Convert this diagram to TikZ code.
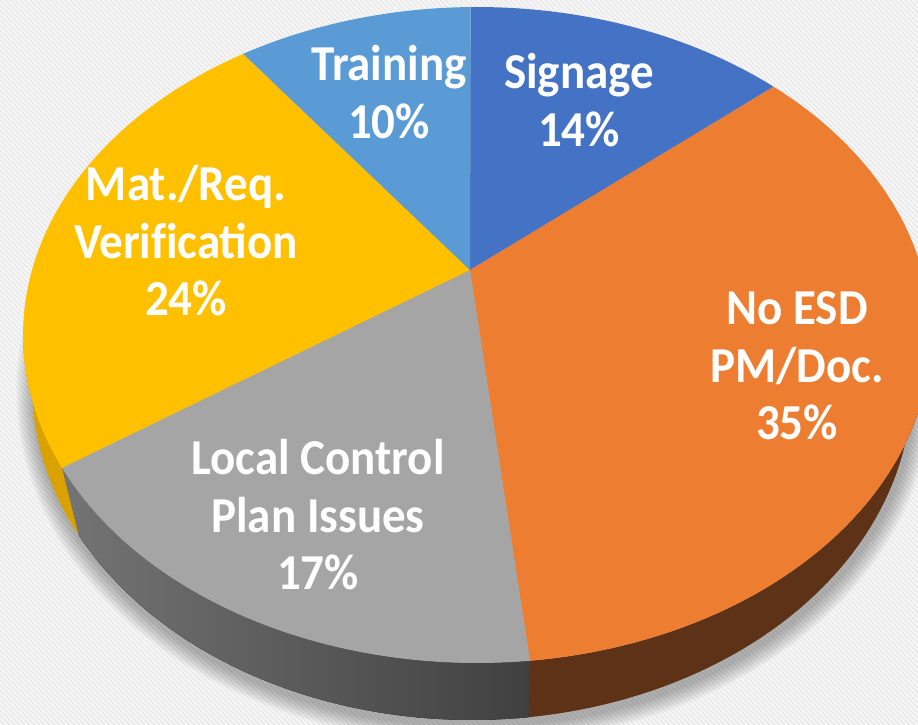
\documentclass[tikz,border=0pt]{standalone}
\usepackage{fontspec}
\usepackage{graphicx}
\setmainfont{Carlito}
\definecolor{bgc}{HTML}{F8F8F8}
\definecolor{stripec}{HTML}{E9E9E9}
\definecolor{csign}{HTML}{4472C4}
\definecolor{corange}{HTML}{ED7D31}
\definecolor{cgray}{HTML}{A5A5A5}
\definecolor{cyellow}{HTML}{FFC000}
\definecolor{ctrain}{HTML}{5B9BD5}
\definecolor{rimorange}{HTML}{5E3216}
\definecolor{rimgrayL}{HTML}{747474}
\definecolor{rimgrayR}{HTML}{404040}
\definecolor{rimyellow}{HTML}{D9A200}
\newcommand\sy[1]{\scalebox{1}[1.07]{#1}}
\begin{document}
\begin{tikzpicture}[x=1pt,y=-1pt,
  lbl/.style={text=white,font=\fontsize{47}{57.5}\selectfont\bfseries,align=center,inner sep=0pt},
  stripe/.style={draw=stripec,line width=1.7pt}]
\useasboundingbox (0,0) rectangle (918,725);
% background
\fill[bgc] (0,0) rectangle (918,725);
\begin{scope}
\clip (0,0) rectangle (918,725);
\foreach \i in {-730,-725,...,920} \draw[stripe] (\i,0) -- ++(725,725);
% soft shadow
\foreach \i in {1,...,10}
  \fill[black,opacity=0.03] plot[domain=0:360,samples=90,variable=\t]
    ({474+(440+1.8*\i)*cos(\t)},{391+(335+1.8*\i)*sin(\t)}) -- cycle;
\end{scope}
% rim (side walls)
\fill[rimorange]
  plot[domain=0:83.3,samples=50,variable=\t]({477+454*cos(\t)},{335+328*sin(\t)})
  -- plot[domain=82.6:0,samples=50,variable=\t]({472+440*cos(\t)},{385+335*sin(\t)}) -- cycle;
\fill[left color=rimgrayL,right color=rimgrayR]
  plot[domain=83.3:156.1,samples=50,variable=\t]({477+454*cos(\t)},{335+328*sin(\t)})
  -- plot[domain=153.4:82.6,samples=50,variable=\t]({472+440*cos(\t)},{385+335*sin(\t)}) -- cycle;
\fill[rimyellow]
  plot[domain=156.1:180,samples=30,variable=\t]({477+454*cos(\t)},{335+328*sin(\t)})
  -- plot[domain=180:153.4,samples=30,variable=\t]({472+440*cos(\t)},{385+335*sin(\t)}) -- cycle;
% top slices
\coordinate (O) at (470,270);
\fill[csign] (O) -- plot[domain=269.2:310.8,samples=40,variable=\t]({477+454*cos(\t)},{335+328*sin(\t)}) -- cycle;
\fill[corange] (O) -- plot[domain=310.8:443.3,samples=90,variable=\t]({477+454*cos(\t)},{335+328*sin(\t)}) -- cycle;
\fill[cgray] (O) -- plot[domain=83.3:156.1,samples=60,variable=\t]({477+454*cos(\t)},{335+328*sin(\t)}) -- cycle;
\fill[cyellow] (O) -- plot[domain=156.1:239,samples=60,variable=\t]({477+454*cos(\t)},{335+328*sin(\t)}) -- cycle;
\fill[ctrain] (O) -- plot[domain=239:269.2,samples=30,variable=\t]({477+454*cos(\t)},{335+328*sin(\t)}) -- cycle;
% labels
\node[lbl] (tr) at (389,92) {\sy{Training}\\\sy{10\%}};
\node[lbl] (sg) at (579,100) {\sy{Signage}\\\sy{14\%}};
\node[lbl] (mt) at (186,241) {\sy{Mat./Req.}\\\sy{Verif\kern0pt ication}\\\sy{24\%}};
\node[lbl] (no) at (797,366) {\sy{No ESD}\\\sy{PM/Doc.}\\\sy{35\%}};
\node[lbl] (lc) at (318,515) {\sy{Local Control}\\\sy{Plan Issues}\\\sy{17\%}};
\end{tikzpicture}
\end{document}
